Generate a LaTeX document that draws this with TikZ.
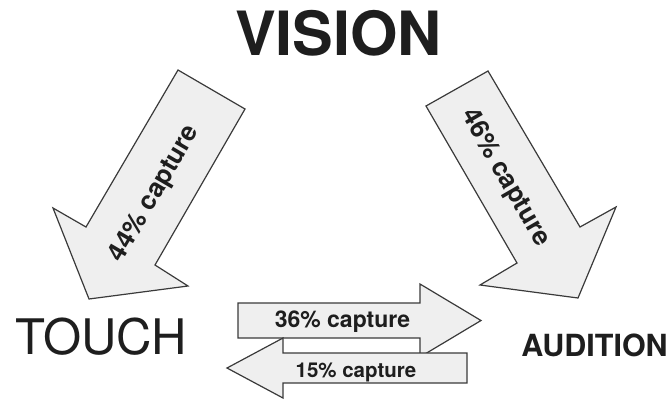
\documentclass[tikz,border=0pt]{standalone}
\usepackage{fontspec}
\setmainfont{TeX Gyre Heros}
\definecolor{arrowfill}{HTML}{EFEFEF}
\definecolor{arrowline}{HTML}{3A3A3A}
\definecolor{ink}{HTML}{1E1E1E}
\tikzset{
  blockarrow/.style={fill=arrowfill, draw=arrowline, line width=1.2pt, line join=miter},
  lbl/.style={inner sep=0pt, text=ink},
  bigtitle/.style={lbl, font=\fontsize{61}{61}\selectfont\bfseries},
  sense/.style={lbl, font=\fontsize{49}{49}\selectfont},
  sensebold/.style={lbl, font=\fontsize{30.5}{30.5}\selectfont\bfseries},
  caplbl/.style={lbl, font=\fontsize{#1}{#1}\selectfont\bfseries},
}
\begin{document}
\begin{tikzpicture}[x=1pt, y=-1pt]
\useasboundingbox (0,0) rectangle (671,400);

% titles
\node[bigtitle, anchor=base] (vision) at (338.5,55) {VISION};
\node[sense, anchor=base] (touch) at (101,354) {TOUCH};
\node[sensebold, anchor=base] (audition) at (594.5,356) {AUDITION};

% vision -> touch
\draw[blockarrow] (178,70) -- (245,109) -- (155,265) -- (188,286) -- (89,299)
  -- (53,208) -- (86,227) -- cycle;
\node[caplbl=26, rotate=59.6] (c44) at (155,194) {44\% capture};

% vision -> audition
\draw[blockarrow] (488,71) -- (426,106) -- (517,263) -- (480,285) -- (578,298)
  -- (616,207) -- (580,227) -- cycle;
\node[caplbl=26, rotate=-60] (c46) at (505,178) {46\% capture};

% touch -> audition
\draw[blockarrow] (238,303) -- (420,303) -- (420,284) -- (481,320.5) -- (420,357)
  -- (420,338) -- (238,338) -- cycle;
\node[caplbl=23, anchor=base] (c36) at (342.5,327) {36\% capture};

% audition -> touch
\draw[blockarrow] (467,353) -- (467,383) -- (283,383) -- (283,398) -- (227,368)
  -- (283,338) -- (283,353) -- cycle;
\node[caplbl=20.5, anchor=base] (c15) at (356,377) {15\% capture};
\end{tikzpicture}
\end{document}
